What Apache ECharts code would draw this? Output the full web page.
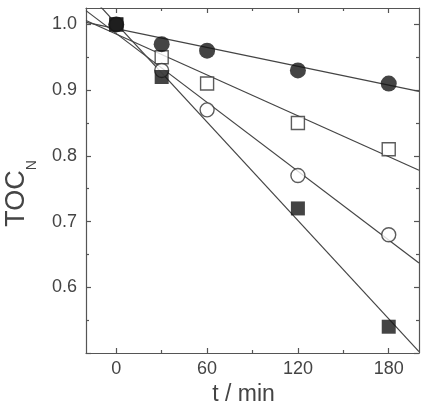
<!DOCTYPE html>
<html>
<head>
<meta charset="utf-8">
<script src="https://cdn.jsdelivr.net/npm/echarts@6/dist/echarts.min.js"></script>
<style>html,body{margin:0;padding:0;background:#fff}#c{width:424px;height:413px}</style>
</head>
<body>
<div id="c"></div>
<script>
// data
var tFilledCircle = [0, 30, 60, 120, 180];
var vFilledCircle = [1.0, 0.97, 0.96, 0.93, 0.91];
var tOpenSquare = [0, 30, 60, 120, 180];
var vOpenSquare = [1.0, 0.95, 0.91, 0.85, 0.81];
var tOpenCircle = [0, 30, 60, 120, 180];
var vOpenCircle = [1.0, 0.93, 0.87, 0.77, 0.68];
var tFilledSquare = [0, 30, 120, 180];
var vFilledSquare = [1.0, 0.92, 0.72, 0.54];
// fitted lines, end points
var fitT = [-20, 200];
var fitFilledCircle = [1.003, 0.898];
var fitOpenSquare = [1.006, 0.778];
var fitOpenCircle = [1.021, 0.637];
var fitFilledSquare = [1.051, 0.502];
// ticks
var xMajor = [0, 60, 120, 180];
var xMinor = [30, 90, 150];
var yMajor = [0.5, 0.6, 0.7, 0.8, 0.9, 1.0];
var yLabels = [0.6, 0.7, 0.8, 0.9, 1.0];
var yMinor = [0.55, 0.65, 0.75, 0.85, 0.95];

function pairs(xs, ys) { return xs.map(function (x, i) { return [x, ys[i]]; }); }

var axisCol = '#555';
var textCol = '#444';
var markCol = '#151515';
var lineCol = '#444';
var FONT = 'Liberation Sans, Arial, sans-serif';

function xAx(pos, ticks, len, showLine, showLabel) {
  return {
    type: 'value', position: pos, min: -20, max: 200,
    axisLine: { show: showLine, onZero: false, lineStyle: { color: axisCol, width: 1.2 } },
    axisTick: { show: true, inside: true, length: len, customValues: ticks, lineStyle: { color: axisCol, width: 1.2 } },
    axisLabel: { show: showLabel, customValues: ticks, margin: 7, color: textCol, fontSize: 18, fontFamily: FONT,
      formatter: function (v) { return String(Math.round(v)); } },
    splitLine: { show: false }
  };
}
function yAx(pos, ticks, len, showLine, showLabel) {
  return {
    type: 'value', position: pos, min: 0.5, max: 1.025,
    axisLine: { show: showLine, onZero: false, lineStyle: { color: axisCol, width: 1.2 } },
    axisTick: { show: true, inside: true, length: len, customValues: ticks, lineStyle: { color: axisCol, width: 1.2 } },
    axisLabel: { show: showLabel, customValues: yLabels, margin: 9, color: textCol, fontSize: 18, fontFamily: FONT,
      formatter: function (v) { return v.toFixed(1); } },
    splitLine: { show: false }
  };
}

var xs = [
  xAx('bottom', xMajor, 5, true, true),
  xAx('bottom', xMinor, 3, false, false),
  xAx('top', xMajor, 5, true, false),
  xAx('top', xMinor, 3, false, false)
];
xs[0].name = 't / min';
xs[0].nameLocation = 'middle';
xs[0].nameGap = 26;
xs[0].nameTextStyle = { color: textCol, fontSize: 23, fontFamily: FONT, padding: [0, 18, 0, 0] };

var ys = [
  yAx('left', yMajor, 5, true, true),
  yAx('left', yMinor, 3, false, false),
  yAx('right', yMajor, 5, true, false),
  yAx('right', yMinor, 3, false, false)
];
ys[0].name = '{a|TOC}{b|N}';
ys[0].nameLocation = 'middle';
ys[0].nameGap = 47;
ys[0].nameTextStyle = {
  color: textCol, fontFamily: FONT, padding: [0, 26, 0, 0],
  rich: {
    a: { fontSize: 27, lineHeight: 44, color: textCol, fontFamily: FONT },
    b: { fontSize: 14, lineHeight: 14, verticalAlign: 'bottom', color: textCol, fontFamily: FONT }
  }
};

function fitLine(vals) {
  return { type: 'line', data: pairs(fitT, vals), symbol: 'none', silent: true, clip: true,
    lineStyle: { color: lineCol, width: 1.2 }, z: 1, animation: false };
}
function scat(ts, vs, sym, size, filled) {
  return { type: 'scatter', data: pairs(ts, vs), symbol: sym, symbolSize: size, z: 3, animation: false,
    itemStyle: filled ? { color: markCol } : { color: '#fff', borderColor: '#333', borderWidth: 1.4 } };
}

var chart = echarts.init(document.getElementById('c'), null, { renderer: 'canvas' });
chart.setOption({
  animation: false,
  grid: { left: 86, right: 5, top: 8, bottom: 60, containLabel: false, outerBoundsMode: 'none' },
  xAxis: xs,
  yAxis: ys,
  series: [
    fitLine(fitFilledCircle),
    fitLine(fitOpenSquare),
    fitLine(fitOpenCircle),
    fitLine(fitFilledSquare),
    scat(tOpenSquare, vOpenSquare, 'rect', 13, false),
    scat(tOpenCircle, vOpenCircle, 'circle', 14, false),
    scat(tFilledSquare, vFilledSquare, 'rect', 14, true),
    scat(tFilledCircle, vFilledCircle, 'circle', 16, true)
  ]
});
</script>
</body>
</html>
